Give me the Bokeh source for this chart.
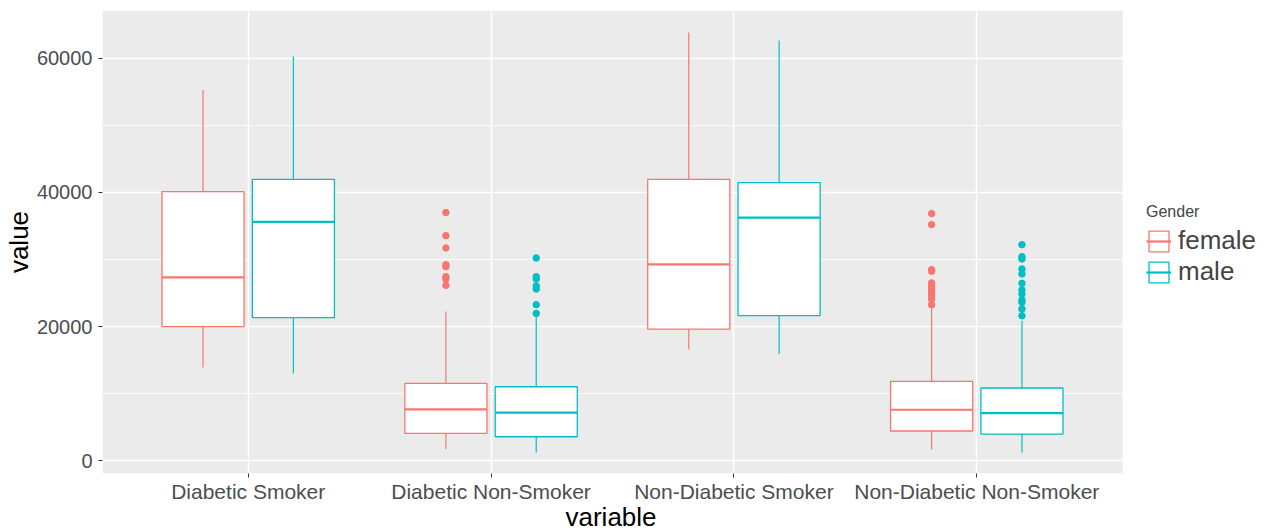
from bokeh.plotting import figure
from bokeh.models import (ColumnDataSource, FixedTicker, SingleIntervalTicker,
                          BasicTickFormatter, Legend, LegendItem, Range1d, Title)
from bokeh.embed import file_html
from bokeh.resources import INLINE

categories = ["Diabetic Smoker", "Diabetic Non-Smoker",
              "Non-Diabetic Smoker", "Non-Diabetic Non-Smoker"]
genders = ["female", "male"]
colors = ["#F8766D", "#00BFC4"]

female_lower = [13910, 1740, 16600, 1690]
female_q1 = [19980, 4070, 19630, 4430]
female_median = [27330, 7650, 29270, 7600]
female_q3 = [40100, 11530, 41940, 11830]
female_upper = [55270, 22260, 63810, 22810]

male_lower = [13020, 1240, 15910, 1240]
male_q1 = [21320, 3580, 21620, 3980]
male_median = [35590, 7160, 36230, 7110]
male_q3 = [41940, 11030, 41450, 10840]
male_upper = [60240, 21400, 62620, 20870]

female_outliers = [[],
                   [36980, 33550, 31710, 29220, 28920, 27430, 27090, 26140],
                   [],
                   [36830, 35190, 28480, 28230, 26500, 26090, 25600, 25090,
                    24600, 24110, 23260]]
male_outliers = [[],
                 [30220, 27430, 27090, 26050, 25600, 23260, 21960],
                 [],
                 [32200, 30420, 30070, 28580, 27840, 26440, 25450, 24850,
                  23960, 23600, 22620, 21620]]

FONT = "Liberation Sans"

# panel spans x 0.4..4.6; frame is widened to the right to host the legend
X0, X1 = 0.4, 4.6
Y0, Y1 = -1900, 67100
PX_PER_UNIT = 1020 / (X1 - X0)
FRAME_W = 1268 - 102 - 6
p = figure(width=1268, height=531, output_backend="svg", toolbar_location=None,
           x_range=Range1d(X0, X0 + FRAME_W / PX_PER_UNIT),
           y_range=Range1d(Y0, Y1),
           min_border_left=102, min_border_top=10, min_border_right=6,
           min_border_bottom=58)
p.background_fill_color = "white"
p.border_fill_color = "white"
p.outline_line_color = None

# grey panel background
p.quad(left=[X0], right=[X1], bottom=[Y0], top=[Y1], fill_color="#EBEBEB",
       line_color=None, level="image")

# grid
p.xgrid.ticker = FixedTicker(ticks=[1, 2, 3, 4])
p.xgrid.grid_line_color = "white"
p.xgrid.grid_line_width = 1.5
p.ygrid.grid_line_color = "white"
p.ygrid.grid_line_width = 1.5
p.ygrid.minor_grid_line_color = "white"
p.ygrid.minor_grid_line_width = 0.8

# axes
p.xaxis.ticker = FixedTicker(ticks=[1, 2, 3, 4])
p.xaxis.major_label_overrides = {i + 1: c for i, c in enumerate(categories)}
p.yaxis.ticker = SingleIntervalTicker(interval=20000, num_minor_ticks=2)
p.yaxis.formatter = BasicTickFormatter(use_scientific=False)
for ax in (p.xaxis[0], p.yaxis[0]):
    ax.axis_line_color = None
    ax.major_tick_line_color = "#333333"
    ax.major_tick_line_width = 1
    ax.major_tick_out = 4
    ax.major_tick_in = 0
    ax.minor_tick_line_color = None
    ax.major_label_text_color = "#4D4D4D"
    ax.major_label_text_font = FONT
    ax.axis_label_text_font = FONT
    ax.axis_label_text_font_style = "normal"
    ax.axis_label_text_font_size = "26px"
    ax.axis_label_text_color = "black"
p.xaxis.major_label_text_font_size = "21px"
p.yaxis.major_label_text_font_size = "20px"
p.yaxis.axis_label = "value"
p.xaxis.major_label_standoff = 2
p.yaxis.major_label_standoff = 6
p.yaxis.axis_label_standoff = 0

# x-axis title, centred under the grey panel
p.add_layout(Title(text="variable", align="left", offset=463, standoff=-11,
                   text_font=FONT, text_font_size="26px",
                   text_font_style="normal", text_color="black"), "below")

offsets = [-0.186, 0.186]
bw = 0.338
legend_items = []
groups = [
    (female_lower, female_q1, female_median, female_q3, female_upper, female_outliers),
    (male_lower, male_q1, male_median, male_q3, male_upper, male_outliers),
]
for g, (lo, q1, med, q3, up, outl) in enumerate(groups):
    col = colors[g]
    xs = [i + 1 + offsets[g] for i in range(len(categories))]
    src = ColumnDataSource(dict(x=xs, lo=lo, q1=q1, med=med, q3=q3, up=up,
                                x0=[x - bw / 2 for x in xs],
                                x1=[x + bw / 2 for x in xs]))
    p.segment(x0="x", y0="q3", x1="x", y1="up", source=src,
              line_color=col, line_width=1.2)
    p.segment(x0="x", y0="q1", x1="x", y1="lo", source=src,
              line_color=col, line_width=1.2)
    box = p.vbar(x="x", width=bw, bottom="q1", top="q3", source=src,
                 fill_color="white", line_color=col, line_width=1.3)
    medr = p.segment(x0="x0", y0="med", x1="x1", y1="med", source=src,
                     line_color=col, line_width=2.2)
    ox, oy = [], []
    for i, vals in enumerate(outl):
        for v in vals:
            ox.append(xs[i])
            oy.append(v)
    p.scatter(ox, oy, size=6.5, marker="circle", fill_color=col,
              line_color=col)
    legend_items.append(LegendItem(label=genders[g], renderers=[box, medr]))

legend = Legend(items=legend_items, title="Gender",
                title_text_font=FONT, title_text_font_size="16px",
                title_text_font_style="normal", title_standoff=4,
                label_text_font=FONT, label_text_font_size="26px",
                glyph_width=25, glyph_height=26, label_height=26,
                label_standoff=7, spacing=0, padding=0, margin=0,
                border_line_color=None, background_fill_alpha=0,
                location=(1044, 186))
p.add_layout(legend, "center")

open("out.html", "w").write(file_html(p, INLINE))
